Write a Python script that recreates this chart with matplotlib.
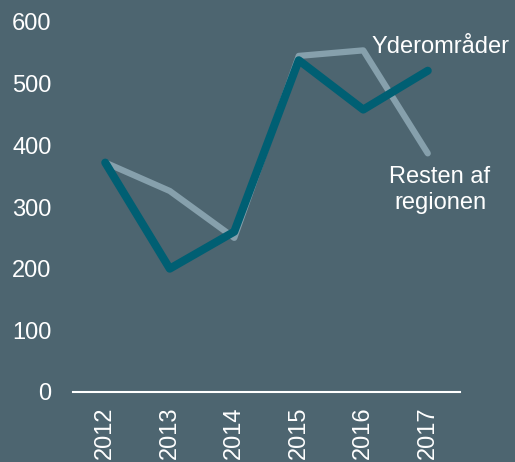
import matplotlib.pyplot as plt

# ---------- Data ----------

years = ["2012", "2013", "2014", "2015", "2016", "2017"]
yderomraader = [372, 200, 260, 538, 458, 521]
resten = [372, 326, 250, 545, 554, 387]
y_ticks = [0, 100, 200, 300, 400, 500, 600]

BG = "#4d6570"
LIGHT = "#86a0ac"
DARK = "#005f73"

plt.rcParams["font.family"] = ["Liberation Sans", "DejaVu Sans"]


def main():
    fig = plt.figure(figsize=(5.15, 4.62), dpi=100, facecolor=BG)
    ax = fig.add_axes([73 / 515, 1 - 392 / 462, (460 - 73) / 515, (392 - 22) / 462])
    ax.set_facecolor(BG)

    x = list(range(len(years)))
    ax.plot(x, resten, color=LIGHT, lw=4.5, solid_capstyle="round", zorder=2)
    ax.plot(x, yderomraader, color=DARK, lw=5.8, solid_capstyle="round", zorder=3)

    ax.set_xlim(-0.5, len(years) - 0.5)
    ax.set_ylim(0, 600)
    ax.set_yticks(y_ticks)
    ax.set_xticks(x)
    ax.set_xticklabels(years, rotation=90)

    for side in ["top", "right", "left"]:
        ax.spines[side].set_visible(False)
    ax.spines["bottom"].set_color("white")
    ax.spines["bottom"].set_linewidth(1.5)

    ax.tick_params(axis="both", length=0, labelcolor="white", labelsize=17)
    ax.tick_params(axis="y", pad=15.5)
    ax.tick_params(axis="x", pad=10.5)

    # Direct labels instead of a legend
    ax.text(4.13, 559, "Yderområder", color="white", fontsize=17,
            ha="left", va="center", clip_on=False)
    ax.text(5.19, 327, "Resten af\nregionen", color="white", fontsize=17,
            ha="center", va="center", linespacing=1.25, clip_on=False)

    fig.savefig("out.png", dpi=100, facecolor=BG)
    plt.close(fig)


if __name__ == "__main__":
    main()
